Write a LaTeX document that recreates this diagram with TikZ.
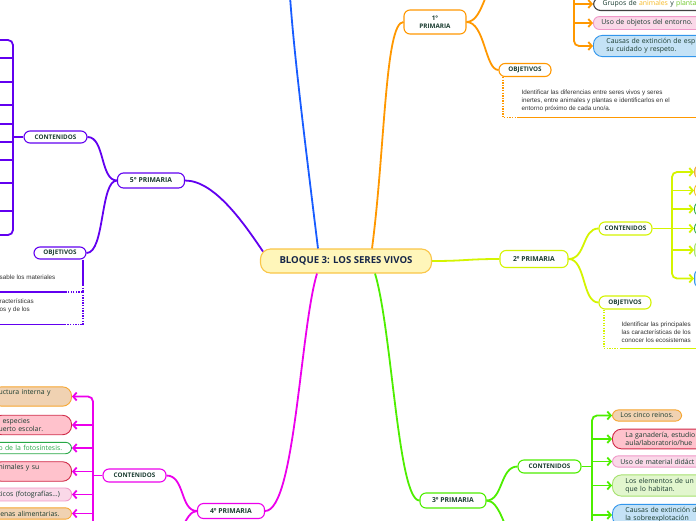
\documentclass[tikz,border=0pt]{standalone}
\usepackage{fontspec}
\setmainfont{Open Sans}
\newfontfamily\notafont{Liberation Sans}
\usetikzlibrary{arrows.meta,calc}
\definecolor{txt}{RGB}{26,60,48}
\definecolor{navy}{RGB}{22,38,72}
\definecolor{naranja}{RGB}{255,152,0}
\definecolor{azul}{RGB}{24,92,255}
\definecolor{morado}{RGB}{98,0,240}
\definecolor{fucsia}{RGB}{236,0,236}
\definecolor{verde}{RGB}{78,238,0}
\definecolor{lima}{RGB}{212,244,0}
\definecolor{centrofill}{RGB}{255,246,186}
\definecolor{centrodraw}{RGB}{250,198,72}
\definecolor{tanfill}{RGB}{240,210,178}
\definecolor{tandraw}{RGB}{246,166,48}
\definecolor{rosafill}{RGB}{255,194,204}
\definecolor{rosadraw}{RGB}{208,42,72}
\definecolor{pinkfill}{RGB}{250,216,232}
\definecolor{pinkdraw}{RGB}{240,152,200}
\definecolor{lgfill}{RGB}{226,246,206}
\definecolor{lgdraw}{RGB}{166,226,110}
\definecolor{lbfill}{RGB}{196,226,246}
\definecolor{lbdraw}{RGB}{50,150,236}
\definecolor{vdraw}{RGB}{40,168,70}
\definecolor{amarillo}{RGB}{246,186,40}
\definecolor{plantas}{RGB}{110,200,40}
\begin{document}
\begin{tikzpicture}[x=1pt,y=-1pt,
    tema/.style={draw,fill=white,rounded corners=6pt,line width=1.1pt,text=txt,font=\fontsize{6.8}{7.5}\selectfont\bfseries,inner sep=0pt,align=center},
    sub/.style={tema,font=\fontsize{6.3}{7}\selectfont\bfseries},
    rama/.style={line width=1.8pt},
    flecha/.style={line width=1.8pt,-{Straight Barb[length=3.5pt,width=8pt]}},
    caja/.style={draw,rounded corners=6pt,line width=0.9pt,text=txt,font=\fontsize{6.9}{8.3}\selectfont,align=left,inner xsep=8pt,inner ysep=3pt},
    doble/.style={caja,text width=100pt,inner xsep=13pt,rounded corners=9pt},
    punteado/.style={line width=1.5pt,dash pattern=on 1.3pt off 1.3pt},
    nota/.style={font=\notafont\fontsize{6.3}{8.3}\selectfont,text=black!80,align=left,inner sep=0pt,anchor=north west}
]
\useasboundingbox (0,0) rectangle (696,520);
\fill[white] (0,0) rectangle (696,520);
\clip (0,0) rectangle (696,520);

%% centro y cursos
\node[tema,fill=centrofill,draw=centrodraw,text=navy,minimum width=171pt,minimum height=24pt,rounded corners=10pt,font=\fontsize{9.6}{11}\selectfont\bfseries] (bloque) at (346,261) {BLOQUE 3: LOS SERES VIVOS};
\node[tema,draw=naranja,minimum width=62pt,minimum height=24pt,font=\fontsize{6.3}{8.5}\selectfont\bfseries] (prim1) at (435,22) {1°\\PRIMARIA};
\node[tema,draw=lima,minimum width=68pt,minimum height=17pt] (prim2) at (534,259) {2º PRIMARIA};
\node[tema,draw=verde,minimum width=66pt,minimum height=15pt] (prim3) at (453,500.5) {3º PRIMARIA};
\node[tema,draw=fucsia,minimum width=67pt,minimum height=15pt] (prim4) at (231,511) {4º PRIMARIA};
\node[tema,draw=morado,minimum width=67pt,minimum height=15pt] (prim5) at (151,180.5) {5° PRIMARIA};
\coordinate (sexto) at (289,-20);

%% contenidos y objetivos
\node[sub,draw=naranja,minimum width=52pt,minimum height=13pt] (obj1) at (525,70) {OBJETIVOS};
\node[sub,draw=lima,minimum width=53pt,minimum height=13pt] (cont2) at (625.5,228.5) {CONTENIDOS};
\node[sub,draw=lima,minimum width=52pt,minimum height=13pt] (obj2) at (625,302.5) {OBJETIVOS};
\node[sub,draw=verde,minimum width=63pt,minimum height=13pt] (cont3) at (549.5,466.5) {CONTENIDOS};
\node[sub,draw=fucsia,minimum width=63pt,minimum height=13pt] (cont4) at (134.5,475.5) {CONTENIDOS};
\node[sub,draw=morado,minimum width=63pt,minimum height=12pt] (cont5) at (55.5,137) {CONTENIDOS};
\node[sub,draw=morado,minimum width=52pt,minimum height=12pt] (obj5) at (60,253) {OBJETIVOS};
\coordinate (cont1) at (505,-25);
\coordinate (obj3) at (520,560);
\coordinate (obj4) at (165,560);

%% ramas principales
\draw[rama,azul] ([xshift=-28pt]bloque.north) .. controls (306,150) and (292,40) .. (sexto);
\draw[rama,naranja] ([xshift=26pt]bloque.north) .. controls (385,150) and (385,22) .. (prim1.west);
\draw[rama,lima] (bloque.east) .. controls (466,261) and (466,259) .. (prim2.west);
\draw[rama,verde] ([xshift=29pt]bloque.south) .. controls (392,330) and (398,500.5) .. (prim3.west);
\draw[rama,fucsia] ([xshift=-29pt]bloque.south) .. controls (300,330) and (295,511) .. (prim4.east);
\draw[rama,morado] ($(bloque.north west)+(3,3)$) .. controls (245,225) and (215,180.5) .. (prim5.east);

%% ramas de cada curso
\draw[rama,naranja] (prim1.east) .. controls (485,22) and (485,-25) .. (cont1);
\draw[rama,naranja] (prim1.east) .. controls (485,22) and (485,70) .. (obj1.west);
\draw[rama,lima] (prim2.east) .. controls (586,259) and (582,228.5) .. (cont2.west);
\draw[rama,lima] (prim2.east) .. controls (586,259) and (582,302.5) .. (obj2.west);
\draw[rama,verde] (prim3.east) .. controls (503,500.5) and (500,466.5) .. (cont3.west);
\draw[rama,verde] (prim3.east) .. controls (500,500.5) and (505,530) .. (obj3);
\draw[rama,fucsia] (prim4.west) .. controls (180,511) and (185,475.5) .. (cont4.east);
\draw[rama,fucsia] (prim4.west) .. controls (185,511) and (180,540) .. (obj4);
\draw[rama,morado] (prim5.west) .. controls (100,180.5) and (105,137) .. (cont5.east);
\draw[rama,morado] (prim5.west) .. controls (100,180.5) and (105,253) .. (obj5.east);

%% 1 primaria
\node[caja,draw=black!75,line width=1.1pt,fill=white,anchor=west,text width=100pt,inner xsep=9pt,rounded corners=7pt] (grupos) at (593,4) {Grupos de \textcolor{amarillo}{animales} y \textcolor{plantas}{plantas}};
\node[caja,draw=pinkdraw,fill=pinkfill,anchor=west,text width=100pt] (objetos) at (593,23) {Uso de objetos del entorno.};
\node[doble,draw=lbdraw,fill=lbfill,anchor=west] (extincion1) at (593,46) {Causas de extinción de esp\\su cuidado y respeto.};
\coordinate (barra1) at (574,-20);
\draw[flecha,naranja,rounded corners=5pt] (barra1) |- (extincion1.west);
\foreach \n in {grupos,objetos}
    \draw[flecha,naranja] (barra1 |- \n.west) -- (\n.west);
\coordinate (nota1a) at (518,117.5);
\coordinate (nota1b) at (700,117.5);
\draw[punteado,naranja] ([xshift=-22pt]obj1.south) |- (nota1a);
\draw[line width=1.5pt,naranja] (nota1a) -- (nota1b);
\node[nota] (texto1) at (521.5,89.5) {Identificar las diferencias entre seres vivos y seres\\inertes, entre animales y plantas e identificarlos en el\\entorno próximo de cada uno/a.};

%% 2 primaria
\foreach \n/\y/\h/\f/\d in {a/172/14/tanfill/tandraw,b/190.5/14/white/amarillo,c/209/14/white/vdraw,d/228.5/13/white/vdraw,e/250/17/lgfill/lgdraw,f/278.5/18/lbfill/lbdraw}
    \node[caja,anchor=west,fill=\f,draw=\d,minimum width=40pt,minimum height=\h pt] (dos\n) at (694,\y) {};
\coordinate (barra2) at (672,228.5);
\draw[rama,lima] (cont2.east) -- (barra2);
\draw[flecha,lima,rounded corners=5pt] (barra2) |- (dosa.west);
\draw[flecha,lima,rounded corners=5pt] (barra2) |- (dosf.west);
\foreach \n in {b,c,d,e}
    \draw[flecha,lima] (barra2 |- dos\n.west) -- (dos\n.west);
\coordinate (nota2a) at (620,348.5);
\coordinate (nota2b) at (700,348.5);
\draw[punteado,lima] ([xshift=-21pt]obj2.south) |- (nota2a);
\draw[line width=1.5pt,lima] (nota2a) -- (nota2b);
\node[nota] (texto2) at (621.5,321.5) {Identificar las principales\\las características de los\\conocer los ecosistemas};

%% 3 primaria
\node[caja,draw=tandraw,fill=tanfill,anchor=west] (reinos) at (612,415.5) {Los cinco reinos.};
\node[doble,draw=rosadraw,fill=rosafill,anchor=west] (ganaderia) at (612,439) {La ganadería, estudio\\aula/laboratorio/hue};
\node[caja,draw=pinkdraw,fill=pinkfill,anchor=west,text width=100pt] (material) at (612,461.5) {Uso de material didáct};
\node[doble,draw=lgdraw,fill=lgfill,anchor=west] (elementos) at (612,485.5) {Los elementos de un\\que lo habitan.};
\node[doble,draw=lbdraw,fill=lbfill,anchor=west] (extincion3) at (612,515) {Causas de extinción d\\la sobreexplotación};
\coordinate (barra3) at (592,560);
\draw[rama,verde] (cont3.east) -- (barra3 |- cont3.east);
\draw[flecha,verde,rounded corners=5pt] (barra3) |- (reinos.west);
\foreach \n in {ganaderia,material,elementos,extincion3}
    \draw[flecha,verde] (barra3 |- \n.west) -- (\n.west);

%% 4 primaria
\node[caja,draw=tandraw,fill=tanfill,anchor=east,text width=67pt,inner xsep=6pt,rounded corners=9pt] (estructura) at (72,396.5) {uctura interna y\\\mbox{}};
\node[caja,draw=rosadraw,fill=rosafill,anchor=east,text width=67pt,inner xsep=6pt,rounded corners=9pt] (especies) at (72,425) {\hspace*{4pt}especies\\uerto escolar.};
\node[caja,draw=vdraw,fill=white,text=vdraw,anchor=east,text width=67pt,inner xsep=6pt] (fotosintesis) at (72,448) {o de la fotosíntesis.};
\node[caja,draw=rosadraw,fill=rosafill,anchor=east,text width=67pt,inner xsep=6pt,rounded corners=9pt] (animales) at (72,471.5) {nimales y su\\\mbox{}};
\node[caja,draw=pinkdraw,fill=pinkfill,anchor=east,text width=67pt,inner xsep=6pt] (fotos) at (72,494.5) {ticos (fotografías…)};
\node[caja,draw=tandraw,fill=tanfill,anchor=east,text width=67pt,inner xsep=6pt] (cadenas) at (72,513.5) {lenas alimentarias.};
\coordinate (barra4) at (93,560);
\draw[rama,fucsia] (cont4.west) -- (barra4 |- cont4.west);
\draw[flecha,fucsia,rounded corners=5pt] (barra4) |- (estructura.east);
\foreach \n in {especies,fotosintesis,animales,fotos,cadenas}
    \draw[flecha,fucsia] (barra4 |- \n.east) -- (\n.east);

%% 5 primaria
\foreach \y [count=\i] in {40,58,82,105,124,142,160,183,211,235}
    \coordinate (quinto\i) at (-12,\y);
\coordinate (barra5) at (13,137);
\draw[rama,morado] (cont5.west) -- (barra5);
\draw[flecha,morado,rounded corners=5pt] (barra5) |- (quinto1);
\draw[flecha,morado,rounded corners=5pt] (barra5) |- (quinto10);
\foreach \i in {2,...,9}
    \draw[flecha,morado] (barra5 |- quinto\i) -- (quinto\i);
\coordinate (nota5a) at (83,285);
\coordinate (nota5b) at (65,292);
\coordinate (nota5c) at (-5,292);
\coordinate (nota5d) at (65,324.5);
\coordinate (nota5e) at (-5,324.5);
\draw[line width=1.5pt,morado] ([xshift=23pt]obj5.south) -- (nota5a);
\draw[punteado,morado] (nota5a) |- (nota5b);
\draw[line width=1.5pt,morado] (nota5b) -- (nota5c);
\draw[punteado,morado] (nota5a |- nota5b) |- (nota5d);
\draw[line width=1.5pt,morado] (nota5d) -- (nota5e);
\node[nota,anchor=west] (texto5a) at (-0.5,277) {sable los materiales};
\node[nota] (texto5b) at (-0.5,298.5) {racterísticas\\os y de los};
\end{tikzpicture}
\end{document}
